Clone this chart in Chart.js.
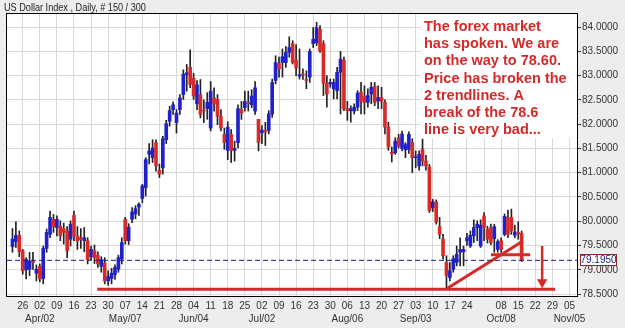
<!DOCTYPE html>
<html><head><meta charset="utf-8">
<script src="https://cdn.jsdelivr.net/npm/chart.js@4.4.1/dist/chart.umd.min.js"></script>
<style>html,body{margin:0;padding:0;background:#ededed;}#wrap{width:625px;height:328px;}</style>
</head><body><div id="wrap"><canvas id="c" width="625" height="328"></canvas></div>
<script>
// ---- DATA (US Dollar Index, daily bars) ----
const open = [79.48,79.58,79.71,79.39,79.00,79.01,79.16,78.93,79.07,78.82,
79.44,79.73,80.04,79.87,79.90,79.85,79.80,79.63,80.12,79.70,
79.66,79.60,79.60,79.27,79.39,79.30,79.07,79.14,78.77,78.82,
78.90,79.01,79.22,80.04,79.60,80.04,80.15,80.29,80.47,80.69,
81.38,81.31,81.62,81.05,81.10,81.68,82.06,82.30,82.03,82.30,
82.61,83.02,83.17,82.95,82.42,82.61,82.28,82.32,81.92,82.54,
82.51,82.16,81.79,81.46,81.79,81.46,81.62,82.30,82.34,82.44,
82.40,82.27,82.10,81.82,81.87,81.87,82.21,82.90,83.25,83.27,
83.27,83.48,83.66,83.32,82.99,83.03,82.92,82.97,83.66,83.68,
83.96,83.66,82.84,82.83,82.73,82.69,83.07,83.32,82.32,82.28,
82.27,82.35,82.66,82.57,82.45,82.62,82.78,82.48,82.55,82.45,
81.94,81.42,81.41,81.72,81.50,81.47,81.48,81.62,81.31,81.14,
81.48,81.24,81.12,80.28,80.40,79.89,79.63,79.15,78.84,79.01,
79.15,79.36,79.37,79.60,79.49,79.70,79.87,79.49,80.11,79.84,
79.87,79.64,79.42,79.60,79.73,80.08,80.08,79.71,79.77,79.75];
const high = [79.85,79.99,79.80,79.42,79.25,79.36,79.36,79.10,79.12,79.49,
79.84,80.21,80.14,80.11,80.01,79.96,79.89,80.01,80.21,79.89,
79.85,79.87,79.66,79.49,79.51,79.37,79.27,79.25,78.98,79.03,
79.10,79.30,79.66,80.08,79.95,80.28,80.32,80.38,80.76,81.31,
81.60,81.68,81.68,81.18,81.75,82.08,82.37,82.46,82.30,82.61,
83.12,83.23,83.53,83.05,82.90,82.92,82.50,82.65,82.88,82.75,
82.61,82.30,81.92,82.05,81.89,81.65,82.40,82.47,82.68,82.68,
82.71,82.88,82.10,81.97,82.04,82.28,82.93,83.41,83.38,83.55,
83.60,83.80,83.72,83.64,83.55,83.14,83.10,83.55,83.99,84.10,
84.03,83.72,83.00,82.93,82.93,83.17,83.50,83.38,82.47,82.38,
82.42,82.69,82.86,82.79,82.73,82.86,82.86,82.79,82.76,82.50,
82.04,81.53,81.72,81.79,81.86,81.62,81.84,81.70,81.45,81.45,
81.69,81.36,81.17,80.45,80.44,80.08,79.73,79.29,79.15,79.29,
79.49,79.66,79.49,79.75,79.80,80.03,80.01,80.03,80.18,79.90,
79.94,79.94,79.62,79.66,80.15,80.23,80.25,79.92,79.99,79.80];
const low = [79.36,79.46,79.27,78.91,78.81,78.88,79.01,78.77,78.75,78.71,
79.36,79.66,79.77,79.70,79.60,79.53,79.25,79.49,79.60,79.42,
79.44,79.37,79.12,79.21,79.13,79.05,78.95,78.71,78.68,78.71,
78.80,78.95,79.12,79.53,79.52,79.97,80.05,80.12,80.38,80.52,
81.18,81.21,81.03,80.90,80.97,81.60,81.96,82.20,81.82,82.20,
82.51,82.68,82.75,82.51,82.30,82.13,82.03,82.10,81.86,82.27,
81.99,81.86,81.48,81.27,81.21,81.24,81.51,82.10,82.27,82.27,
82.34,82.20,81.45,81.60,81.56,81.80,82.14,82.83,82.97,82.97,
83.17,83.38,83.24,83.00,82.93,82.92,82.73,82.86,83.58,83.62,
83.48,82.59,82.35,82.76,82.52,82.52,82.21,82.28,82.08,82.04,
82.21,82.28,82.21,82.21,82.35,82.42,82.38,82.32,82.32,81.80,
81.46,81.22,81.38,81.51,81.45,81.31,81.40,81.00,81.10,81.05,
81.14,81.05,80.18,80.20,79.94,79.64,79.22,78.60,78.77,78.95,
79.08,79.08,79.08,79.50,79.46,79.56,79.60,79.46,79.60,79.55,
79.52,79.36,79.36,79.36,79.70,79.66,79.73,79.66,79.63,79.17];
const close = [79.63,79.71,79.37,78.98,79.21,79.18,79.15,79.01,78.81,79.44,
79.77,80.08,79.89,80.04,79.70,79.77,79.39,79.94,79.70,79.60,
79.62,79.66,79.21,79.42,79.25,79.12,79.21,78.77,78.86,78.93,
79.05,79.25,79.56,79.60,79.88,80.19,80.26,80.35,80.73,81.27,
81.45,81.51,81.14,80.97,81.70,82.01,82.28,82.40,82.23,82.54,
83.03,83.06,82.82,82.58,82.81,82.20,82.27,82.45,82.68,82.42,
82.16,81.92,81.62,81.94,81.46,81.50,82.32,82.23,82.47,82.42,
82.58,82.75,81.62,81.88,81.84,82.21,82.86,83.27,83.14,83.39,
83.48,83.58,83.27,83.16,83.02,83.01,82.90,83.50,83.75,83.99,
83.51,82.84,82.62,82.86,82.86,83.07,83.34,82.32,82.28,82.32,
82.35,82.64,82.47,82.45,82.59,82.76,82.45,82.55,82.47,81.94,
81.53,81.39,81.65,81.55,81.80,81.58,81.79,81.31,81.32,81.38,
81.24,81.14,80.22,80.40,79.98,79.73,79.29,78.88,78.98,79.23,
79.32,79.42,79.42,79.66,79.71,79.87,79.94,79.92,79.87,79.63,
79.56,79.89,79.58,79.42,80.10,79.73,79.80,79.78,79.74,79.195];

// week ticks (Mondays); bar index of the first Monday shown
const firstMondayBar = 3;
const dayLabels = ["26","02","09","16","23","30","07","14","21","28","04","11","18","25","02","09","16","23","30","06","13","20","27","03","10","17","24","","08","15","22","29","05"];
const monthLabels = ["","Apr/02","","","","","May/07","","","","Jun/04","","","","Jul/02","","","","","Aug/06","","","","Sep/03","","","","","Oct/08","","","","Nov/05"];
const yTicks = [78.5,79.0,79.5,80.0,80.5,81.0,81.5,82.0,82.5,83.0,83.5,84.0];
const lastPrice = 79.195;
const supportLevel = 78.6;
const supportSpan = [24.8, 158.8];
const trendline = [{x:127.3, y:78.62}, {x:149.3, y:79.59}];
const shortSupport = [{x:140.0, y:79.31}, {x:151.5, y:79.31}];
const arrowShaft = [{x:155, y:79.49}, {x:155, y:78.76}];
const arrowHead = [{x:155, y:78.745}];
const title = "US Dollar Index , Daily, # 150 / 300";
const noteLines = ["The forex market","has spoken. We are","on the way to 78.60.","Price has broken the","2 trendlines. A","break of the 78.6","line is very bad..."];
const xRange = [-1.6, 165.2];
const yRange = [78.46, 84.27];

// ---- CHART ----
const FONT = '"Liberation Sans", Arial, Helvetica, sans-serif';
const upColor = '#1f22cc', downColor = '#d92a2a', noteRed = '#d42a2a';
const bars = open.map((_, i) => i);
const bodies = bars.map(i => ({x: i, y: [open[i], close[i]]}));
const wicks = bars.map(i => ({x: i, y: [low[i], high[i]]}));
const weekTicks = dayLabels.map((_, w) => firstMondayBar + 5 * w);
const colorFor = c => (close[c.dataIndex] >= open[c.dataIndex] ? upColor : downColor);

const deco = {
  id: 'deco',
  beforeDraw(chart) {
    const {ctx, chartArea: a} = chart;
    ctx.save();
    ctx.fillStyle = '#ededed'; ctx.fillRect(0, 0, chart.width, chart.height);
    ctx.fillStyle = '#ffffff'; ctx.fillRect(a.left, a.top, a.right - a.left, a.bottom - a.top);
    ctx.restore();
  },
  beforeDatasetsDraw(chart) {
    const {ctx, chartArea: a} = chart;
    ctx.save();
    ctx.fillStyle = '#ffffff';
    ctx.fillRect(421, a.top, a.right - 421, 124);
    ctx.restore();
  },
  afterDraw(chart) {
    const {ctx, chartArea: a} = chart;
    ctx.save();
    // note text
    ctx.fillStyle = noteRed;
    ctx.font = 'bold 14.5px ' + FONT;
    ctx.textAlign = 'left'; ctx.textBaseline = 'alphabetic';
    noteLines.forEach((t, i) => ctx.fillText(t, 424, 31 + i * 17.2));
    // plot border
    ctx.strokeStyle = '#000'; ctx.lineWidth = 1;
    ctx.strokeRect(a.left - 0.5, a.top - 0.5, a.right - a.left + 1, a.bottom - a.top + 1);
    // title
    ctx.fillStyle = '#222';
    ctx.font = '11px ' + FONT;
    ctx.translate(4, 11); ctx.scale(0.83, 1);
    ctx.fillText(title, 0, 0);
    ctx.setTransform(1, 0, 0, 1, 0, 0);
    // last price label
    const y = Math.round(chart.scales.y.getPixelForValue(lastPrice));
    ctx.fillStyle = '#fff'; ctx.fillRect(a.right + 3, y - 6, 37, 12);
    ctx.strokeStyle = '#8b2a2a'; ctx.strokeRect(a.right + 3.5, y - 5.5, 36, 11);
    ctx.fillStyle = '#1a1a80'; ctx.font = '10px ' + FONT;
    ctx.textAlign = 'center'; ctx.textBaseline = 'middle';
    ctx.fillText(lastPrice.toFixed(4), a.right + 21.5, y + 0.5);
    ctx.restore();
  }
};

const lineDs = (data, extra) => Object.assign({type: 'line', data, borderColor: noteRed, borderWidth: 3,
  pointRadius: 0, fill: false, tension: 0, order: 0}, extra || {});

new Chart(document.getElementById('c'), {
  type: 'bar',
  data: {
    datasets: [
      lineDs([{x: xRange[0], y: lastPrice}, {x: xRange[1], y: lastPrice}], {borderColor: '#1c1c8a', borderWidth: 1, borderDash: [5, 3]}),
      lineDs([{x: supportSpan[0], y: supportLevel}, {x: supportSpan[1], y: supportLevel}]),
      lineDs(trendline),
      lineDs(shortSupport),
      lineDs(arrowShaft, {borderWidth: 2.5}),
      lineDs(arrowHead, {showLine: false, pointRadius: 6, pointStyle: 'triangle', pointRotation: 180,
        pointBackgroundColor: noteRed, pointBorderWidth: 0}),
      {type: 'bar', data: bodies, backgroundColor: colorFor, barThickness: 3, grouped: false,
        minBarLength: 1, borderWidth: 0, order: 1},
      {type: 'bar', data: wicks, backgroundColor: '#222', barThickness: 1, grouped: false,
        borderWidth: 0, order: 2}
    ]
  },
  options: {
    responsive: false, animation: false, events: [],
    layout: {padding: {left: 7, top: 14, right: 0, bottom: 0}},
    plugins: {legend: {display: false}, tooltip: {enabled: false}, title: {display: false}},
    scales: {
      x: {
        type: 'linear', min: xRange[0], max: xRange[1], offset: false,
        afterBuildTicks: s => { s.ticks = weekTicks.map(v => ({value: v})); },
        afterFit: s => { s.height = 32; },
        ticks: {autoSkip: false, maxRotation: 0, padding: 4, color: '#333',
          font: {family: FONT, size: 10, lineHeight: 1.3},
          callback: (v, i) => monthLabels[i] ? [dayLabels[i], monthLabels[i]] : dayLabels[i]},
        grid: {color: '#d9d9d9', drawTicks: false, offset: false},
        border: {display: false}
      },
      y: {
        type: 'linear', position: 'right', min: yRange[0], max: yRange[1],
        afterBuildTicks: s => { s.ticks = yTicks.map(v => ({value: v})); },
        afterFit: s => { s.width = 48; },
        ticks: {padding: 1, color: '#333', font: {family: FONT, size: 10},
          callback: v => Number(v).toFixed(4)},
        grid: {color: '#d9d9d9', tickColor: '#333', tickLength: 4},
        border: {display: false}
      }
    }
  },
  plugins: [deco]
});
</script></body></html>
